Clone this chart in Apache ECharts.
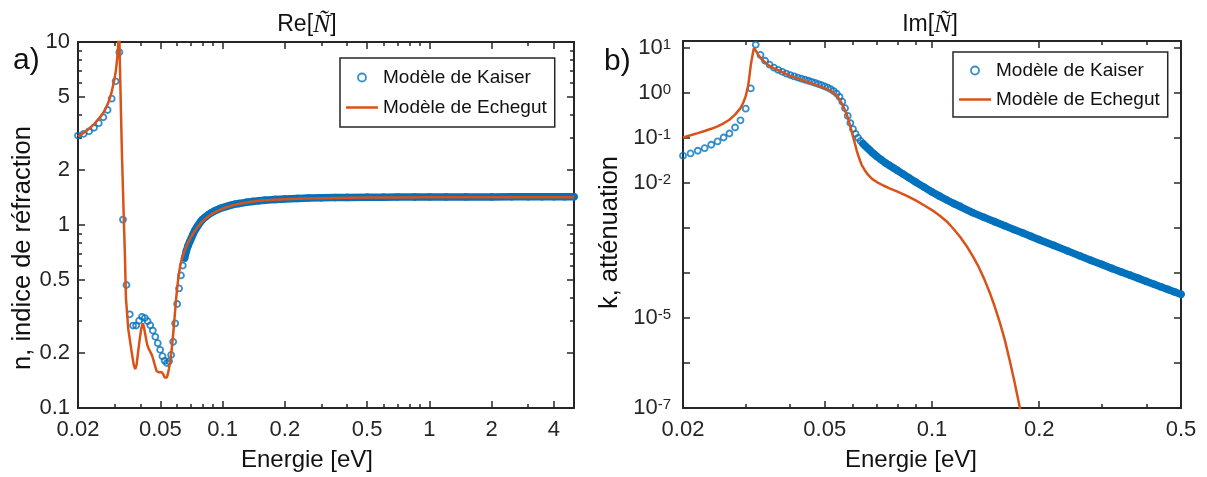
<!DOCTYPE html>
<html><head><meta charset="utf-8">
<script src="https://cdn.jsdelivr.net/npm/echarts@6/dist/echarts.min.js"></script>
<style>html,body{margin:0;padding:0;background:#fff}#c{width:1207px;height:477px}</style>
</head><body><div id="c"></div>
<script>
// ---------- Data ----------
// a) Re[N] : refractive index n
const kaiserReE = [0.0200,0.0213,0.0226,0.0239,0.0252,0.0265,0.0278,0.0291,0.0304,0.0317,0.0330,0.0343,0.0356,0.0369,0.0382,0.0395,0.0408,0.0421,0.0434,0.0447,0.0460,0.0473,0.0486,0.0499,0.0512,0.0525,0.0538,0.0551,0.0564,0.0577,0.0590,0.0603,0.0616,0.0629,0.0642,0.0655,0.0668,
  0.0681,0.0694,0.0707,0.0720,0.0733,0.0746,0.0759,0.0772,0.0785,0.0798,0.082,0.085,0.088,0.091,0.094,0.097,0.100,0.105,0.110,0.115,0.120,0.130,0.140,0.150,0.160,0.180,0.200,0.230,0.260,0.300,0.350,0.400,0.500,0.600,0.700,0.850,1.00,1.20,1.50,2.00,2.50,3.00,3.50,4.00,4.50,5.00];
const kaiserReN = [3.08,3.15,3.25,3.40,3.60,3.88,4.25,4.90,6.10,8.80,1.07,0.47,0.325,0.282,0.282,0.300,0.315,0.310,0.298,0.283,0.265,0.245,0.226,0.208,0.192,0.181,0.176,0.180,0.195,0.230,0.290,0.370,0.450,0.530,0.600,0.660,0.720,
  0.77,0.81,0.85,0.89,0.93,0.96,0.99,1.02,1.045,1.07,1.10,1.135,1.165,1.19,1.21,1.23,1.245,1.265,1.285,1.30,1.31,1.33,1.345,1.355,1.365,1.378,1.388,1.397,1.403,1.408,1.412,1.415,1.418,1.42,1.421,1.422,1.423,1.423,1.424,1.424,1.425,1.425,1.425,1.425,1.425,1.425];
const echegutReE = [0.0200,0.0220,0.0240,0.0260,0.0270,0.0280,0.0290,0.0300,0.0305,0.0310,0.0313,0.0316,0.0320,0.0323,0.0326,0.0330,0.0334,0.0337,0.0341,0.0350,0.0364,0.0372,0.0378,0.0384,0.0390,0.0397,0.0404,0.0411,0.0416,0.0422,0.0432,0.0440,0.0446,0.0455,0.0462,0.0470,0.0479,0.0490,0.0499,0.0508,0.0517,0.0524,0.0530,0.0538,0.0545,0.0551,0.0558,0.0568,0.0578,0.0587,0.0595,0.0603,0.0612,0.0621,0.0630,0.0649,0.0670,0.0696,0.0725,0.0760,0.0800,0.0850,0.0900,0.1000,0.1100,0.1200,0.1350,0.1500,0.1750,0.2000,0.2500,0.3000,0.4000,0.5000,0.7000,1.000,1.500,2.000,3.000,4.000,5.000];
const echegutReN = [3.05,3.27,3.57,3.97,4.25,4.65,5.25,6.25,7.0,8.3,9.6,12.5,6.3,3.95,2.5,1.55,0.97,0.70,0.40,0.27,0.20,0.172,0.163,0.172,0.20,0.235,0.27,0.29,0.28,0.255,0.222,0.21,0.205,0.195,0.185,0.172,0.160,0.157,0.156,0.157,0.153,0.147,0.145,0.147,0.155,0.165,0.18,0.21,0.26,0.32,0.385,0.45,0.52,0.58,0.63,0.70,0.77,0.84,0.91,0.98,1.05,1.11,1.16,1.23,1.275,1.305,1.335,1.355,1.372,1.383,1.395,1.402,1.408,1.412,1.415,1.417,1.418,1.419,1.42,1.42,1.42];

// b) Im[N] : attenuation k
const kaiserImE = [0.020,0.021,0.022,0.023,0.024,0.025,0.026,0.027,0.028,0.029,0.030,0.031,0.032,0.033,0.034,0.035,0.036,0.037,0.038,0.039,0.040,0.041,0.042,0.043,0.044,0.045,0.046,0.047,0.048,0.049,0.050,0.051,0.052,0.053,0.054,0.055,0.056,0.057,0.058,0.059,0.060,0.061,0.062,0.063,0.064,0.065,0.066,0.067,0.068,0.069,0.070,
  0.072,0.074,0.076,0.078,0.080,0.083,0.086,0.090,0.095,0.100,0.105,0.110,0.115,0.120,0.13,0.14,0.15,0.16,0.17,0.18,0.19,0.20,0.22,0.24,0.26,0.28,0.30,0.32,0.34,0.36,0.38,0.40,0.42,0.44,0.46,0.48,0.50];
const kaiserImK = [0.0404,0.0454,0.052,0.0595,0.0708,0.0837,0.1025,0.126,0.171,0.247,0.449,1.26,11.8,7.0,5.2,4.25,3.65,3.25,2.95,2.70,2.50,2.34,2.20,2.08,1.97,1.87,1.77,1.67,1.58,1.49,1.40,1.31,1.21,1.10,0.97,0.82,0.64,0.46,0.31,0.215,0.158,0.124,0.101,0.086,0.075,0.066,0.059,0.053,0.047,0.043,0.039,
  0.033,0.028,0.0245,0.0215,0.019,0.0158,0.0132,0.0105,0.0081,0.0063,0.0051,0.0042,0.0035,0.0030,0.0022,0.00172,0.00138,0.00112,0.00092,0.00077,0.00065,0.00055,0.00041,0.00031,0.00024,0.00019,0.000155,0.000126,0.000105,0.000089,0.000076,0.000065,0.000056,0.000049,0.000043,0.000038,0.0000336];
const echegutImE = [0.020,0.021,0.022,0.023,0.024,0.025,0.026,0.027,0.028,0.029,0.0295,0.030,0.0305,0.0310,0.0313,0.0316,0.0320,0.0325,0.0330,0.0340,0.0350,0.0360,0.0380,0.0400,0.0430,0.0460,0.0480,0.0500,0.0520,0.0535,0.0545,0.0555,0.0565,0.0575,0.0585,0.0595,0.0605,0.0615,0.0625,0.0635,0.0647,0.0660,0.0680,0.0700,0.0730,0.0760,0.0800,0.0850,0.0900,0.0950,0.1000,0.1050,0.1100,0.1150,0.1200,0.1250,0.1300,0.1350,0.1400,0.1450,0.1500,0.1550,0.1600,0.1650,0.1700,0.1750,0.1800,0.1850];
const echegutImK = [0.103,0.115,0.128,0.143,0.160,0.182,0.212,0.255,0.33,0.46,0.60,0.85,1.50,4.2,6.5,9.8,8.8,7.2,6.0,4.8,4.0,3.5,2.9,2.40,1.95,1.62,1.44,1.28,1.10,0.93,0.80,0.64,0.48,0.35,0.23,0.14,0.085,0.052,0.035,0.025,0.0195,0.0155,0.0122,0.0105,0.0088,0.0076,0.0064,0.0052,0.0041,0.0032,0.0025,0.0019,0.0014,0.00095,0.00063,0.00040,0.00024,0.00014,0.000075,0.000038,0.000018,0.0000080,0.0000033,0.0000012,0.00000042,0.00000014,0.000000045,0.000000014];

// Tick values
const reXLabels = [0.02,0.05,0.1,0.2,0.5,1,2,4];
const reXMinor  = [0.03,0.04,0.06,0.07,0.08,0.09,0.3,0.4,0.6,0.7,0.8,0.9,3];
const reYLabels = [0.1,0.2,0.5,1,2,5,10];
const reYMinor  = [0.3,0.4,0.6,0.7,0.8,0.9,3,4,6,7,8,9];
const imXLabels = [0.02,0.05,0.1,0.2,0.5];
const imXMinor  = [0.03,0.04,0.06,0.07,0.08,0.09,0.3,0.4];
const imYTicks  = [1e-7,1e-6,1e-5,1e-4,1e-3,1e-2,1e-1,1,10];
const imYLabels = [1e-7,1e-5,1e-2,1e-1,1,10];

// ---------- Chart ----------
const BLUE = '#0072BD', ORANGE = '#D95319', AX = '#262626';
const FONT = 'Liberation Sans';
const zip = (a, b) => a.map((v, i) => [v, b[i]]);

function axisSet(kind, gi, min, max, majors, labels, minors, fmt, name, nameGap, labelMargin, nameSize, namePad, rich) {
  const pos = kind === 'x' ? ['bottom', 'top'] : ['left', 'right'];
  const base = { type: 'log', logBase: 10, gridIndex: gi, min, max, splitLine: { show: false },
    minorTick: { show: false }, minorSplitLine: { show: false }, silent: true };
  const line = { show: true, onZero: false, lineStyle: { color: AX, width: 2 } };
  const majTick = { show: true, inside: true, length: 7, lineStyle: { color: AX, width: 1.5 }, customValues: majors };
  const minTick = minors.length ? { show: true, inside: true, length: 4, lineStyle: { color: AX, width: 1.5 }, customValues: minors } : { show: false };
  return [
    Object.assign({}, base, { position: pos[0], axisLine: line, axisTick: majTick,
      axisLabel: { show: true, customValues: labels, formatter: fmt, color: AX, fontFamily: FONT, fontSize: 22, margin: labelMargin, rich: rich },
      name: name, nameLocation: 'middle', nameGap: nameGap,
      nameTextStyle: { color: '#111', fontFamily: FONT, fontSize: nameSize, padding: namePad } }),
    Object.assign({}, base, { position: pos[0], axisLine: { show: false }, axisTick: minTick, axisLabel: { show: false } }),
    Object.assign({}, base, { position: pos[1], axisLine: line, axisTick: majTick, axisLabel: { show: false } }),
    Object.assign({}, base, { position: pos[1], axisLine: { show: false }, axisTick: minTick, axisLabel: { show: false } })
  ];
}
const numFmt = v => String(+(+v).toPrecision(4));
const powFmt = v => '{b|10}{s|' + Math.round(Math.log10(v)) + '}';
const powRich = { b: { fontFamily: FONT, fontSize: 22, color: AX }, s: { fontFamily: FONT, fontSize: 15, color: AX, verticalAlign: 'top' } };

const xAxes = [].concat(
  axisSet('x', 0, 0.02, 5, reXLabels, reXLabels, reXMinor, numFmt, 'Energie [eV]', 40, 11, 24, [0, 38, 0, 0]),
  axisSet('x', 1, 0.02, 0.5, imXLabels, imXLabels, imXMinor, numFmt, 'Energie [eV]', 40, 11, 24, [0, 42, 0, 0])
);
const yAxes = [].concat(
  axisSet('y', 0, 0.1, 10, reYLabels, reYLabels, reYMinor, numFmt, 'n, indice de réfraction', 42, 8, 25.5, [0, 46, 0, 0]),
  axisSet('y', 1, 1e-7, 14.3, imYTicks, imYLabels, [], powFmt, 'k, atténuation', 60, 12, 25.5, [0, 16, 0, 0], powRich)
);

const ring = { color: 'rgba(0,0,0,0)', borderColor: BLUE, borderWidth: 1.8 };
const kRe = zip(kaiserReE, kaiserReN), kIm = zip(kaiserImE, kaiserImK);

function legendFor(left, top, padding, gap) {
  return { left, top, orient: 'vertical', align: 'left', backgroundColor: '#fff', borderColor: AX, borderWidth: 1.5,
    borderRadius: 0, padding, itemWidth: 32, itemHeight: 8, itemGap: gap, symbolKeepAspect: true,
    textStyle: { fontFamily: FONT, fontSize: 19, color: '#111', lineHeight: 19 },
    data: [ { name: 'Modèle de Kaiser', icon: 'circle', itemStyle: ring },
            { name: 'Modèle de Echegut', icon: 'path://M0,0H32V2.5H0Z', itemStyle: { color: ORANGE, borderWidth: 0 } } ] };
}
const titleRich = { a: { fontFamily: FONT, fontSize: 23, fontWeight: 'normal', color: '#111' },
                    n: { fontFamily: 'Liberation Serif', fontStyle: 'italic', fontWeight: 'normal', fontSize: 26, color: '#111' } };

const option = {
  animation: false,
  backgroundColor: '#fff',
  title: [
    { text: '{a|Re[}{n|Ñ}{a|]}', left: 307, top: 12, padding: 0, textAlign: 'center', textStyle: { fontWeight: 'normal', rich: titleRich } },
    { text: '{a|Im[}{n|Ñ}{a|]}', left: 930, top: 12, padding: 0, textAlign: 'center', textStyle: { fontWeight: 'normal', rich: titleRich } },
    { text: 'a)', left: 13, top: 46, padding: 0, textStyle: { fontFamily: FONT, fontSize: 30, fontWeight: 'normal', color: '#111' } },
    { text: 'b)', left: 604, top: 47, padding: 0, textStyle: { fontFamily: FONT, fontSize: 30, fontWeight: 'normal', color: '#111' } }
  ],
  grid: [
    { left: 78, top: 42, width: 496, height: 367 },
    { left: 683, top: 41, width: 498, height: 369 }
  ],
  legend: [ legendFor(340, 58, [10, 8, 10, 6], 11), legendFor(953, 52, [9, 8, 8, 6], 10) ],
  xAxis: xAxes,
  yAxis: yAxes,
  series: [
    { name: 'Modèle de Kaiser', type: 'scatter', xAxisIndex: 0, yAxisIndex: 0, data: kRe,
      symbol: 'circle', symbolSize: 6, itemStyle: ring },
    { name: 'Modèle de Kaiser', type: 'line', xAxisIndex: 0, yAxisIndex: 0, data: kRe.filter(p => p[0] >= 0.0655),
      symbol: 'none', silent: true, lineStyle: { color: BLUE, width: 7.5, cap: 'round', join: 'round' } },
    { name: 'Modèle de Echegut', type: 'line', xAxisIndex: 0, yAxisIndex: 0, data: zip(echegutReE, echegutReN),
      symbol: 'none', lineStyle: { color: ORANGE, width: 2.5 }, itemStyle: { color: ORANGE } },
    { name: 'Modèle de Kaiser', type: 'scatter', xAxisIndex: 4, yAxisIndex: 4, data: kIm,
      symbol: 'circle', symbolSize: 6, itemStyle: ring },
    { name: 'Modèle de Kaiser', type: 'line', xAxisIndex: 4, yAxisIndex: 4, data: kIm.filter(p => p[0] >= 0.064),
      symbol: 'none', silent: true, lineStyle: { color: BLUE, width: 7.5, cap: 'round', join: 'round' } },
    { name: 'Modèle de Echegut', type: 'line', xAxisIndex: 4, yAxisIndex: 4, data: zip(echegutImE, echegutImK),
      symbol: 'none', lineStyle: { color: ORANGE, width: 2.5 }, itemStyle: { color: ORANGE } }
  ]
};
const chart = echarts.init(document.getElementById('c'), null, { renderer: 'canvas' });
chart.setOption(option);
</script></body></html>
